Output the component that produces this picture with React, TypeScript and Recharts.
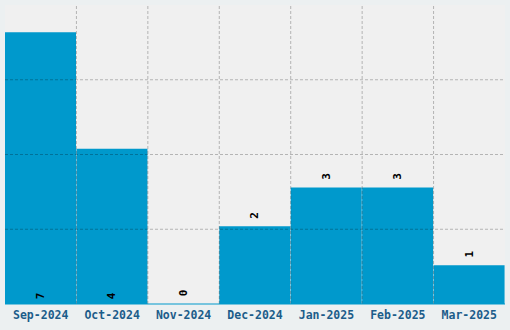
import React from "react";
import { BarChart, Bar, XAxis, YAxis, CartesianGrid, ReferenceLine, LabelList } from "recharts";

const months = ["Sep-2024", "Oct-2024", "Nov-2024", "Dec-2024", "Jan-2025", "Feb-2025", "Mar-2025"];
const counts = [7, 4, 0, 2, 3, 3, 1];
const yTicks = [0, 1.925, 3.85, 5.775, 7.7];

const data = months.map((m, i) => ({ month: m, count: counts[i] }));

const FONT = "'DejaVu Sans Mono', 'Liberation Mono', monospace";
const GRID = "rgba(0,0,0,0.25)";

const ValueLabel = (props: any) => {
  const { x, y, width, height, value } = props;
  const cx = x + width / 2;
  const bottom = y + height;
  const cy = value >= 4 ? bottom - 8 : y - 11;
  return (
    <text
      x={cx}
      y={cy}
      transform={`rotate(-90 ${cx} ${cy})`}
      textAnchor="middle"
      dominantBaseline="central"
      fontFamily={FONT}
      fontWeight="bold"
      fontSize={11}
      fill="#000"
    >
      {String(value)}
    </text>
  );
};

export default function App() {
  return (
    <div style={{ position: "absolute", left: 0, top: 0, width: 510, height: 330, background: "#ecf0f1" }}>
      <BarChart
        width={510}
        height={330}
        data={data}
        margin={{ top: 5, right: 5, bottom: 0, left: 5 }}
        barCategoryGap={0}
        barGap={0}
      >
        <CartesianGrid fill="#f0f0f0" horizontal={false} vertical={false} stroke="none" />
        <XAxis
          dataKey="month"
          height={26}
          tickLine={false}
          axisLine={{ stroke: "#0099cc", strokeWidth: 1 }}
          tick={{ fill: "#1c5d8a", fontFamily: FONT, fontWeight: "bold", fontSize: 11.5, dy: -1.5 }}
          interval={0}
        />
        <YAxis hide domain={[0, 7.7]} ticks={yTicks} />
        <Bar dataKey="count" fill="#0099cc" isAnimationActive={false} minPointSize={0.01}>
          <LabelList dataKey="count" content={ValueLabel} />
        </Bar>
        {months.slice(1).map((m) => (
          <ReferenceLine key={"v" + m} x={m} position="start" stroke={GRID} strokeDasharray="3 2" />
        ))}
        {yTicks.slice(1, 4).map((t) => (
          <ReferenceLine key={"h" + t} y={t} stroke={GRID} strokeDasharray="3 2" />
        ))}
      </BarChart>
    </div>
  );
}
